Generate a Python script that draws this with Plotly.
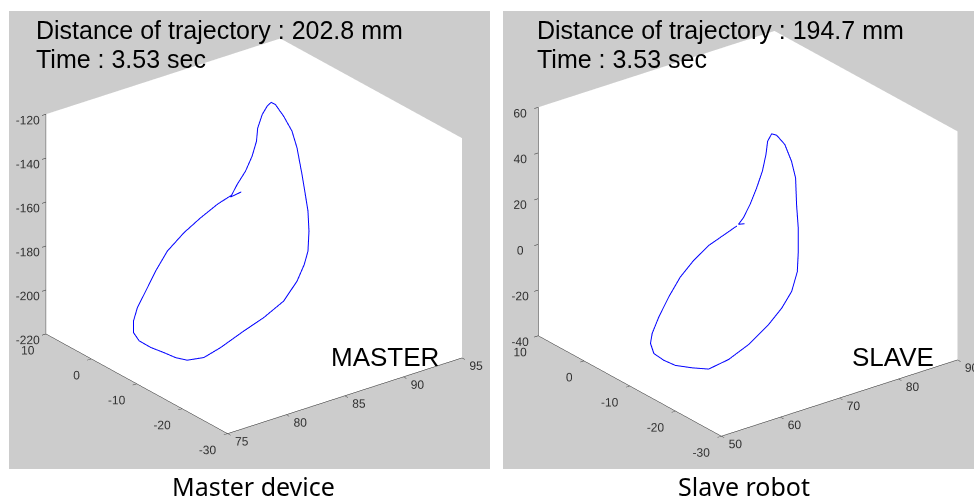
import math
import plotly.graph_objects as go

# ---- Master device trajectory (mm) ----
master_x = [85.58, 84.63, 85.27, 86.10, 86.74, 87.23, 87.45, 87.91, 88.41, 88.79,
            89.11, 89.74, 90.34, 90.65, 90.88, 91.01, 91.12, 91.05, 90.81, 90.42,
            89.65, 88.39, 86.53, 84.75, 82.65, 81.15, 79.70, 78.74, 77.79, 76.70,
            75.74, 75.34, 75.42, 75.83, 76.66, 77.66, 78.81, 80.38, 81.92, 83.42,
            84.31, 84.77]
master_y = [-5.7, -5.8, -5.6, -5.3, -5.1, -4.8, -4.5, -4.3, -4.1, -4.0,
            -4.1, -4.3, -4.6, -4.9, -5.4, -5.8, -6.1, -6.5, -6.9, -7.1,
            -7.5, -7.8, -8.2, -8.4, -8.7, -8.9, -9.0, -8.9, -8.8, -8.7,
            -8.6, -8.4, -8.2, -8.0, -7.7, -7.3, -6.9, -6.5, -6.2, -6.0,
            -5.9, -5.8]
master_z = [-155.8, -156.4, -152.0, -147.7, -142.2, -136.6, -131.3, -126.2, -123.5, -122.5,
            -123.9, -130.1, -137.6, -145.4, -157.3, -166.2, -173.6, -182.2, -190.4, -195.5,
            -201.3, -207.9, -211.8, -214.6, -218.2, -219.9, -218.5, -215.8, -212.0, -207.9,
            -203.3, -199.1, -194.1, -189.0, -183.2, -176.3, -169.7, -164.5, -160.7, -157.4,
            -156.1, -155.7]

# ---- Slave robot trajectory (mm) ----
slave_x = [66.40, 65.39, 66.23, 67.42, 68.63, 69.59, 70.27, 70.55, 71.31, 72.15,
           73.47, 74.60, 75.21, 75.30, 75.51, 75.43, 75.19, 74.15, 72.47, 70.14,
           66.70, 63.32, 59.86, 57.05, 54.23, 52.35, 50.66, 50.09, 50.45, 51.58,
           53.34, 55.37, 57.71, 60.24, 63.13, 65.10]
slave_y = [-13.9, -13.9, -13.9, -13.8, -13.7, -13.7, -13.6, -13.6, -13.5, -13.5,
           -13.6, -13.6, -13.7, -13.8, -13.9, -14.0, -14.1, -14.2, -14.2, -14.3,
           -14.4, -14.4, -14.5, -14.5, -14.5, -14.4, -14.4, -14.4, -14.3, -14.3,
           -14.2, -14.1, -14.0, -14.0, -13.9, -13.9]
slave_z = [21.6, 22.2, 24.4, 29.1, 35.3, 41.8, 48.4, 53.9, 56.4, 55.1,
           50.0, 41.7, 34.0, 22.2, 11.9, 1.9, -6.5, -14.2, -20.1, -25.3,
           -31.0, -34.7, -35.9, -33.0, -29.6, -25.9, -21.5, -16.6, -12.7, -6.4,
           0.8, 7.7, 12.9, 17.3, 19.8, 21.7]

# ---- axis settings ----
master_xrange = [75, 95]
slave_xrange = [50, 90]
yrange = [-30, 10]
master_zrange = [-220, -120]
slave_zrange = [-40, 60]
master_xticks = [75, 80, 85, 90, 95]
slave_xticks = [50, 60, 70, 80, 90]
yticks = [-30, -20, -10, 0, 10]
master_zticks = [-220, -200, -180, -160, -140, -120]
slave_zticks = [-40, -20, 0, 20, 40, 60]

master_distance = 202.8
slave_distance = 194.7
elapsed = 3.53

W, H = 974, 501
GREY = "#cccccc"
TICK_FONT = dict(family="Liberation Sans Narrow, Liberation Sans, Arial", size=12, color="#333333")
LINE = "blue"


def axis(rng, ticks, labels=True):
    return dict(
        range=rng, autorange=False, tickmode="array",
        tickvals=ticks, ticktext=[str(v) for v in ticks], tickangle=0,
        showticklabels=labels,
        title=dict(text=""),
        showbackground=True, backgroundcolor="white",
        showgrid=False, zeroline=False, showspikes=False,
        showline=True, linecolor="#222222", linewidth=1,
        ticks="outside", ticklen=5, tickcolor="#222222",
        tickfont=TICK_FONT,
    )


# camera: MATLAB-like view, orthographic
az = math.radians(232.5)
el = math.radians(24.9)
dist = 1.6
view = (math.cos(el) * math.cos(az), math.cos(el) * math.sin(az), math.sin(el))


def camera(shift):
    return dict(
        eye=dict(x=dist * view[0] + shift[0], y=dist * view[1] + shift[1],
                 z=dist * view[2] + shift[2]),
        center=dict(x=shift[0], y=shift[1], z=shift[2]),
        up=dict(x=0, y=0, z=1),
        projection=dict(type="orthographic"),
    )


def scene(dom_x, xr, xt, zr, zt, aspect, shift):
    return dict(
        domain=dict(x=dom_x, y=[(H - 469) / H, (H - 11) / H]),
        bgcolor=GREY,
        xaxis=axis(xr, xt), yaxis=axis(yrange, yticks, labels=False), zaxis=axis(zr, zt),
        aspectmode="manual", aspectratio=dict(x=aspect[0], y=aspect[1], z=aspect[2]),
        camera=camera(shift),
    )


fig = go.Figure()
for name, xs, ys, zs, xr, zr in (("scene", master_x, master_y, master_z, master_xrange, master_zrange),
                                 ("scene2", slave_x, slave_y, slave_z, slave_xrange, slave_zrange)):
    fig.add_trace(go.Scatter3d(x=xs, y=ys, z=zs, mode="lines",
                               line=dict(color=LINE, width=2), scene=name,
                               hoverinfo="skip", showlegend=False))
    # y-axis tick labels along the front-left floor edge
    fig.add_trace(go.Scatter3d(x=[xr[0]] * len(yticks), y=yticks, z=[zr[0]] * len(yticks),
                               mode="text", text=[str(v) for v in yticks],
                               textposition="bottom left", textfont=TICK_FONT,
                               scene=name, hoverinfo="skip", showlegend=False))

fig.update_layout(
    width=W, height=H,
    margin=dict(l=0, r=0, t=0, b=0),
    paper_bgcolor="white",
    scene=scene([9 / W, 490 / W], master_xrange, master_xticks, master_zrange, master_zticks,
                (1.29, 1.303, 1.058), (-0.0199, 0.0061, -0.0157)),
    scene2=scene([503 / W, 1.0], slave_xrange, slave_xticks, slave_zrange, slave_zticks,
                 (1.30, 1.313, 1.10), (-0.0398, 0.0156, -0.0255)),
)

TXT = "Liberation Sans, Arial, sans-serif"


def label(x_px, y_px, text, size, anchor="left", yanchor="middle", family=TXT):
    fig.add_annotation(x=x_px / W, y=1 - y_px / H, xref="paper", yref="paper",
                       text=text, showarrow=False, xanchor=anchor, yanchor=yanchor,
                       font=dict(family=family, size=size, color="black"))


for x0, d in ((34, master_distance), (535, slave_distance)):
    label(x0, 30, f"Distance of trajectory : {d} mm", 25)
    label(x0, 59, f"Time : {elapsed} sec", 25)

label(441, 357, "MASTER", 26, anchor="right")
label(936, 357, "SLAVE", 26, anchor="right")
label(254, 505, "Master device", 25, anchor="center", yanchor="bottom", family="Noto Sans, sans-serif")
label(744, 505, "Slave robot", 25, anchor="center", yanchor="bottom", family="Noto Sans, sans-serif")

fig.write_html("out.html", config={"displayModeBar": False})
